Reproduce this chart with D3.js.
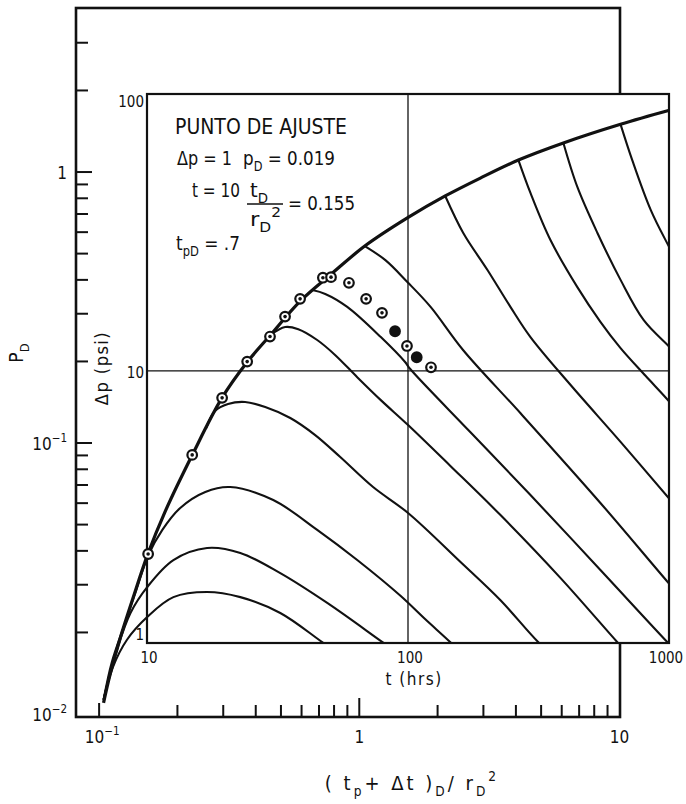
<!DOCTYPE html>
<html>
<head>
<meta charset="utf-8">
<script src="https://cdn.jsdelivr.net/npm/d3@7"></script>
<style>
  body { margin: 0; background: #fff; }
  text { font-family: "DejaVu Sans Condensed", "Liberation Sans Narrow", "DejaVu Sans", sans-serif; fill: #111; }
</style>
</head>
<body>
<svg id="chart"></svg>
<script>
// type curve sheet: (tp+dt)D/rD2 vs pD
const envelope = [
  [0.104, 0.0110], [0.110, 0.0139], [0.120, 0.0188], [0.135, 0.0268], [0.154, 0.0390],
  [0.179, 0.0556], [0.228, 0.0903], [0.297, 0.147], [0.371, 0.199], [0.455, 0.250],
  [0.593, 0.334], [0.780, 0.420], [1.05, 0.533], [1.53, 0.677], [2.14, 0.816], [2.92, 0.950],
  [4.09, 1.107], [6.09, 1.28], [10.1, 1.50], [15.6, 1.69]
]

// one curve per producing time, lowest first
const branchCurves = [
  [[0.104, 0.0113], [0.113, 0.0149], [0.128, 0.0188], [0.153, 0.0228], [0.193, 0.0270], [0.260, 0.0282],
   [0.349, 0.0270], [0.497, 0.0236], [0.727, 0.0183], [0.924, 0.0156]],
  [[0.104, 0.0113], [0.117, 0.0172], [0.132, 0.0236], [0.153, 0.0294], [0.193, 0.0370], [0.260, 0.0410],
   [0.349, 0.0393], [0.497, 0.0331], [0.753, 0.0257], [1.24, 0.0183], [1.57, 0.0156]],
  [[0.104, 0.0113], [0.112, 0.0156], [0.125, 0.0213], [0.139, 0.0287], [0.154, 0.0383], [0.175, 0.0478],
   [0.205, 0.0576], [0.256, 0.0660], [0.319, 0.0688], [0.467, 0.0616], [0.689, 0.0478], [0.982, 0.0370],
   [1.44, 0.0273], [1.79, 0.0224], [2.24, 0.0184], [2.67, 0.0156]],
  [[0.258, 0.1136], [0.279, 0.1313], [0.313, 0.1393], [0.364, 0.1417], [0.435, 0.1358], [0.543, 0.1237],
   [0.677, 0.1070], [0.845, 0.0888], [1.13, 0.0688], [1.54, 0.0552], [2.45, 0.0364], [3.49, 0.0263],
   [4.88, 0.0184], [5.93, 0.0156]],
  [[0.455, 0.250], [0.519, 0.268], [0.583, 0.263], [0.689, 0.240], [0.809, 0.211], [0.982, 0.175],
   [1.21, 0.144], [1.54, 0.1165], [2.24, 0.0823], [3.49, 0.0542], [5.93, 0.0318], [9.82, 0.0184], [11.5, 0.0156]],
  [[0.660, 0.367], [0.740, 0.355], [0.899, 0.318], [1.21, 0.246], [1.50, 0.199], [1.57, 0.1875],
   [2.67, 0.1098], [4.55, 0.0643], [8.45, 0.0340], [15.3, 0.0184], [18.8, 0.0150]],
  [[1.05, 0.533], [1.26, 0.473], [1.53, 0.393], [1.88, 0.318], [2.51, 0.220], [4.16, 0.129],
   [8.45, 0.0601], [15.7, 0.0299], [18.8, 0.0246]],
  [[2.14, 0.816], [2.51, 0.596], [3.11, 0.435], [3.81, 0.318], [4.55, 0.246], [6.48, 0.164],
   [10.1, 0.101], [15.7, 0.0616], [18.8, 0.0502]],
  [[4.09, 1.107], [4.55, 0.837], [5.43, 0.561], [6.89, 0.376], [8.45, 0.280], [10.1, 0.224],
   [12.6, 0.177], [15.6, 0.1417], [18.8, 0.1136]],
  [[6.09, 1.28], [6.89, 0.881], [8.23, 0.596], [10.1, 0.400], [12.4, 0.284], [15.6, 0.226], [18.8, 0.189]],
  [[10.1, 1.50], [11.2, 1.107], [13.2, 0.724], [15.6, 0.524], [17.9, 0.406]]
]

// field data overlay
const tHrs  = [10.1, 14.9, 19.4, 24.2, 29.6, 33.8, 38.6, 47.2, 50.7, 59.4, 69.1, 79.5, 89.2, 99.1, 108, 122.5]
const dpPsi = [2.18, 4.97, 7.99, 10.8, 13.3, 15.7, 18.2, 21.7, 21.8, 20.8, 18.2, 16.2, 13.9, 12.3, 11.2, 10.3]
const solid = [0, 0, 0, 0, 0, 0, 0, 0, 0, 0, 0, 0, 1, 0, 1, 0]

// ticks and labels
const outerXMinor = [0.2, 0.3, 0.4, 0.5, 0.6, 0.7, 0.8, 0.9, 2, 3, 4, 5, 6, 7, 8, 9]
const outerYMinor = [0.02, 0.03, 0.04, 0.05, 0.06, 0.07, 0.08, 0.09, 0.2, 0.3, 0.4, 0.5, 0.6, 0.7, 0.8, 0.9, 2, 3]
const outerMajor = [0.1, 1]
const outerXLabels = [[0.1, '10', '\u22121'], [1, '1', ''], [10, '10', '']]
const outerYLabels = [[1, '1', ''], [0.1, '10', '\u22121'], [0.01, '10', '\u22122']]
const innerXLabels = [10, 100, 1000]
const innerYLabels = [100, 10, 1]

const w = 686
const h = 804

const x = d3.scaleLog().domain([0.0815, 10.05]).range([76, 620])
const y = d3.scaleLog().domain([0.00975, 4.03]).range([717, 8])
const xi = d3.scaleLog().domain([10, 1000]).range([147, 669])
const yi = d3.scaleLog().domain([1.04, 100]).range([643, 94])

const svg = d3.select('#chart').attr('width', w).attr('height', h)

function rich(t, parts, fs) {
  let shift = 0
  parts.forEach(([s, k]) => {
    const want = k === 'sub' ? fs * 0.3 : k === 'sup' ? -fs * 0.45 : 0
    t.append('tspan').attr('dy', want - shift).attr('font-size', k ? fs * 0.68 : fs).text(s)
    shift = want
  })
  return t
}

// narrow hand lettering: squeeze to the measured width
function squeeze(t, len) {
  return t.attr('textLength', len).attr('lengthAdjust', 'spacingAndGlyphs')
}

// outer frame + ticks
svg.append('rect')
   .attr('x', x.range()[0]).attr('y', y.range()[1])
   .attr('width', x.range()[1] - x.range()[0]).attr('height', y.range()[0] - y.range()[1])
   .attr('fill', 'none').attr('stroke', '#111').attr('stroke-width', 2.6)

svg.selectAll('.xt')
   .data(outerXMinor.concat(outerMajor))
   .enter().append('line')
   .attr('x1', d => x(d)).attr('x2', d => x(d))
   .attr('y1', y.range()[0]).attr('y2', d => y.range()[0] - (d === 1 ? 19 : d === 0.1 ? 14 : 12))
   .attr('stroke', '#111').attr('stroke-width', 2)

svg.selectAll('.yt')
   .data(outerYMinor.concat(outerMajor))
   .enter().append('line')
   .attr('x1', x.range()[0]).attr('x2', d => x.range()[0] + (outerMajor.includes(d) ? 16 : 12))
   .attr('y1', d => y(d)).attr('y2', d => y(d))
   .attr('stroke', '#111').attr('stroke-width', 2)

outerXLabels.forEach(([v, b, s]) => {
  const t = svg.append('text').attr('x', x(v) + (s ? 3 : 0)).attr('y', 743).attr('text-anchor', 'middle')
  rich(t, s ? [[b], [s, 'sup']] : [[b]], 17)
})
outerYLabels.forEach(([v, b, s]) => {
  const t = svg.append('text').attr('x', 67).attr('y', y(v) + 7).attr('text-anchor', 'end')
  rich(t, s ? [[b], [s, 'sup']] : [[b]], 17)
})

// overlay sheet
svg.append('rect')
   .attr('x', xi.range()[0]).attr('y', yi.range()[1])
   .attr('width', xi.range()[1] - xi.range()[0]).attr('height', yi.range()[0] - yi.range()[1])
   .attr('fill', '#fff').attr('stroke', '#111').attr('stroke-width', 2.2)

svg.append('line')
   .attr('x1', xi(100)).attr('x2', xi(100)).attr('y1', yi.range()[0]).attr('y2', yi.range()[1])
   .attr('stroke', '#111').attr('stroke-width', 1.3)
svg.append('line')
   .attr('x1', xi.range()[0]).attr('x2', xi.range()[1]).attr('y1', yi(10)).attr('y2', yi(10))
   .attr('stroke', '#111').attr('stroke-width', 1.3)

// curves are only seen on the overlay and left of it
const clip = svg.append('defs').append('clipPath').attr('id', 'cv')
clip.append('rect')
    .attr('x', xi.range()[0]).attr('y', yi.range()[1])
    .attr('width', xi.range()[1] - xi.range()[0]).attr('height', yi.range()[0] - yi.range()[1])
clip.append('rect')
    .attr('x', x.range()[0]).attr('y', y.range()[1])
    .attr('width', xi.range()[0] - x.range()[0]).attr('height', y.range()[0] - y.range()[1])

const line = d3.line()
               .x(d => x(d[0]))
               .y(d => y(d[1]))
               .curve(d3.curveCatmullRom.alpha(0.5))

const g = svg.append('g').attr('clip-path', 'url(#cv)')
g.selectAll('.bc')
 .data(branchCurves)
 .enter().append('path')
 .attr('d', line)
 .attr('fill', 'none').attr('stroke', '#111').attr('stroke-width', 2.1)
g.append('path')
 .attr('d', line(envelope))
 .attr('fill', 'none').attr('stroke', '#111').attr('stroke-width', 3.2)

// field points
const pts = svg.selectAll('.pt')
               .data(tHrs.map((t, i) => [t, dpPsi[i], solid[i]]))
               .enter().append('g')
               .attr('transform', d => `translate(${xi(d[0])},${yi(d[1])})`)
pts.append('circle').attr('r', 4.8)
   .attr('fill', d => d[2] ? '#111' : '#fff').attr('stroke', '#111').attr('stroke-width', 2.2)
pts.filter(d => !d[2]).append('circle').attr('r', 1.8).attr('fill', '#111')

// overlay labels
innerXLabels.forEach(v => {
  svg.append('text').attr('x', xi(v) + (v === 1000 ? -3 : 2)).attr('y', 663)
     .attr('text-anchor', 'middle').attr('font-size', 15).text(v)
})
innerYLabels.forEach(v => {
  svg.append('text').attr('x', 144).attr('y', v === 1 ? 640 : yi(v) + (v === 100 ? 13 : 7))
     .attr('text-anchor', 'end').attr('font-size', 15).text(v)
})
svg.append('text').attr('x', 414).attr('y', 685).attr('text-anchor', 'middle')
   .attr('font-size', 17).attr('letter-spacing', 1.5).text('t (hrs)')
svg.append('text').attr('transform', 'translate(108,368) rotate(-90)').attr('text-anchor', 'middle')
   .attr('font-size', 18).attr('letter-spacing', 1.5).text('\u0394p (psi)')

// outer titles
rich(svg.append('text').attr('transform', 'translate(23,353) rotate(-90)').attr('text-anchor', 'middle'),
     [['P'], ['D', 'sub']], 19)
rich(svg.append('text').attr('x', 412).attr('y', 790).attr('text-anchor', 'middle').attr('letter-spacing', 3),
     [['( t'], ['p', 'sub'], ['+ \u0394t )'], ['D', 'sub'], ['/ r'], ['D', 'sub'], ['2', 'sup']], 20)

// match point box
squeeze(svg.append('text').attr('x', 175).attr('y', 134).attr('font-size', 21)
   .text('PUNTO DE AJUSTE'), 172)
squeeze(svg.append('text').attr('x', 177).attr('y', 165).attr('font-size', 20).text('\u0394p = 1'), 55)
squeeze(rich(svg.append('text').attr('x', 243).attr('y', 165), [['p'], ['D', 'sub'], [' = 0.019']], 20), 92)
squeeze(svg.append('text').attr('x', 192).attr('y', 197).attr('font-size', 20).text('t = 10'), 48)
squeeze(rich(svg.append('text').attr('x', 250).attr('y', 197), [['t'], ['D', 'sub']], 20), 18)
svg.append('line').attr('x1', 247).attr('x2', 283).attr('y1', 204).attr('y2', 204)
   .attr('stroke', '#111').attr('stroke-width', 1.6)
squeeze(rich(svg.append('text').attr('x', 250).attr('y', 226), [['r'], ['D', 'sub'], ['2', 'sup']], 20), 31)
squeeze(svg.append('text').attr('x', 288).attr('y', 210).attr('font-size', 20).text('= 0.155'), 67)
squeeze(rich(svg.append('text').attr('x', 176).attr('y', 250), [['t'], ['pD', 'sub'], [' = .7']], 20), 64)
</script>
</body>
</html>
